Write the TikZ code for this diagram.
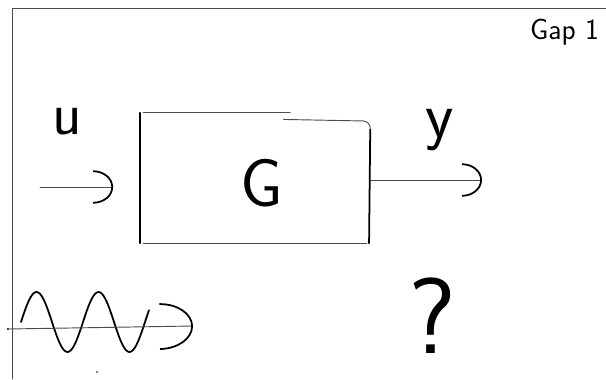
\documentclass[tikz,border=0pt]{standalone}
\usetikzlibrary{positioning,arrows.meta}
\begin{document}
\begin{tikzpicture}[x=0.03cm,y=-0.03cm,
  pen/.style={line width=1.5pt,line cap=round,line join=round},
  thinpen/.style={line width=0.8pt,black!70,line cap=round},
  arr/.style={thinpen,-{Arc Barb[width=1cm,length=0.6cm,line width=1.5pt,black]}},
  bigarr/.style={thinpen,-{Arc Barb[width=1.4cm,length=1cm,line width=1.5pt,black]}},
  hand/.style={font=\sffamily\fontsize{#1}{#1}\selectfont,inner sep=0pt}]
\useasboundingbox (0,0) rectangle (606,379);
% page frame
\draw[thinpen] (12,379) -- (12,8) -- (606,8);
\node[hand=25,anchor=north east] (title) at (599,19) {Gap 1};

% block G
\node[minimum width=6.9cm,minimum height=3.9cm,inner sep=0pt] (plant) at (255,178) {};
\draw[pen] (plant.north west) -- (plant.south west);
\draw[thinpen] ([xshift=3pt]plant.north west) -- ([xshift=-2.4cm]plant.north east);
\draw[thinpen,rounded corners=6pt] ([xshift=-2.6cm,yshift=-0.2cm]plant.north east)
  -- ([yshift=-0.25cm]plant.north east) -- ([yshift=-1cm]plant.north east);
\draw[pen] ([yshift=-0.5cm]plant.north east) -- ([xshift=-1pt]plant.south east);
\draw[thinpen] ([xshift=3pt]plant.south west) -- ([xshift=-3pt]plant.south east);
\node[hand=58] (glabel) at (262,183) {G};

% input u
\node[hand=52] (ulabel) at (67,122) {u};
\coordinate (uin) at (40,187);
\draw[arr,shorten >=0.8cm] (uin) -- (uin -| plant.west);

% output y
\node[hand=56] (ylabel) at (440,130) {y};
\coordinate (yout) at (482,180);
\draw[arr] (plant.east |- yout) -- (yout);

% sine input
\draw[pen] plot[domain=21:149,samples=80,smooth] (\x,{322-30*sin(5.806*(\x-21))});
\coordinate (wl) at (8,329);
\coordinate (wr) at (193,326);
\fill (wl) circle (1pt);
\draw[bigarr] (wl) -- (wr);
\fill (97,372) circle (0.7pt);

% unknown output
\node[hand=92] (qlabel) at (432,316) {?};
\end{tikzpicture}
\end{document}
